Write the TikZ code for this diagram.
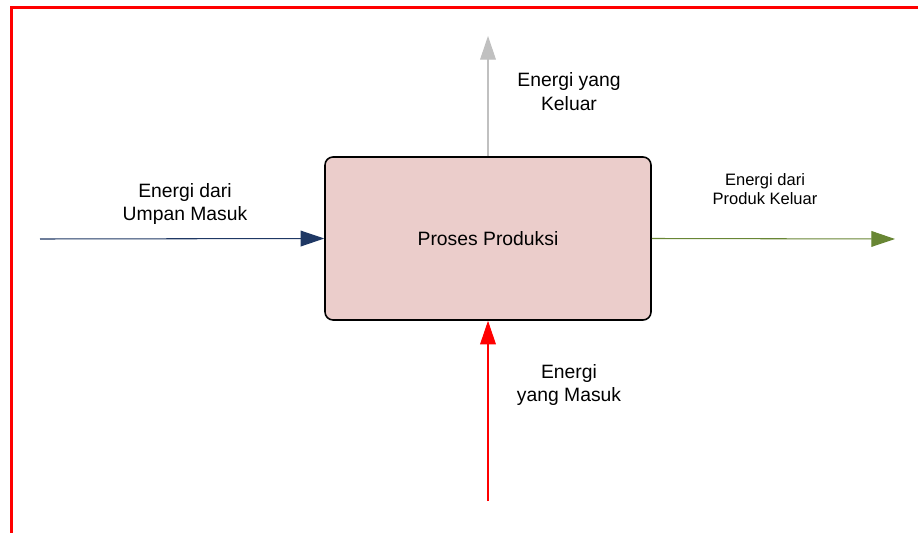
\documentclass[tikz,border=0pt]{standalone}
\usepackage{fontspec}
\setmainfont{Liberation Sans}
\usetikzlibrary{arrows.meta}

\definecolor{umpanblue}{RGB}{31,56,100}
\definecolor{produkgreen}{RGB}{104,134,52}
\definecolor{keluargray}{RGB}{192,192,192}
\definecolor{prosespink}{RGB}{235,205,203}

\tikzset{
  flow/.style={line width=0.6pt,-{Triangle[length=13.5pt,width=9pt]}},
  label/.style={align=center,font=\fontsize{11}{13.6}\selectfont},
  smalllabel/.style={align=center,font=\fontsize{9.4}{10.8}\selectfont}
}

\begin{document}
\begin{tikzpicture}[x=0.02cm,y=-0.02cm]
      \useasboundingbox (0,0) rectangle (918,533);
      % frame
      \draw[red,line width=1.7pt] (11.5,533) -- (11.5,7.5) -- (918,7.5);

      \node[draw=black,line width=0.9pt,fill=prosespink,rounded corners=4.5pt,
            minimum width=6.52cm,minimum height=3.26cm,font=\fontsize{11}{13.6}\selectfont]
            (proses) at (488,238.5) {Proses Produksi};

      \coordinate (umpan)  at (40,239);
      \coordinate (produk) at (895,239);
      \coordinate (keluar) at (488,36);
      \coordinate (masuk)  at (488,501);

      \draw[flow,umpanblue]   (umpan) -- (proses.west);
      \draw[flow,produkgreen] (proses.east) -- (produk);
      \draw[flow,keluargray]  (proses.north) -- (keluar);
      \draw[flow,red]         (masuk) -- (proses.south);

      \node[label] (lumpan)  at (185,204) {Energi dari\\Umpan Masuk};
      \node[label] (lkeluar) at (569,92)  {Energi yang\\Keluar};
      \node[smalllabel] (lprodukt) at (765,189) {Energi dari\\Produk Keluar};
      \node[label] (lmasuk)  at (569,385) {Energi\\yang Masuk};
\end{tikzpicture}
\end{document}
